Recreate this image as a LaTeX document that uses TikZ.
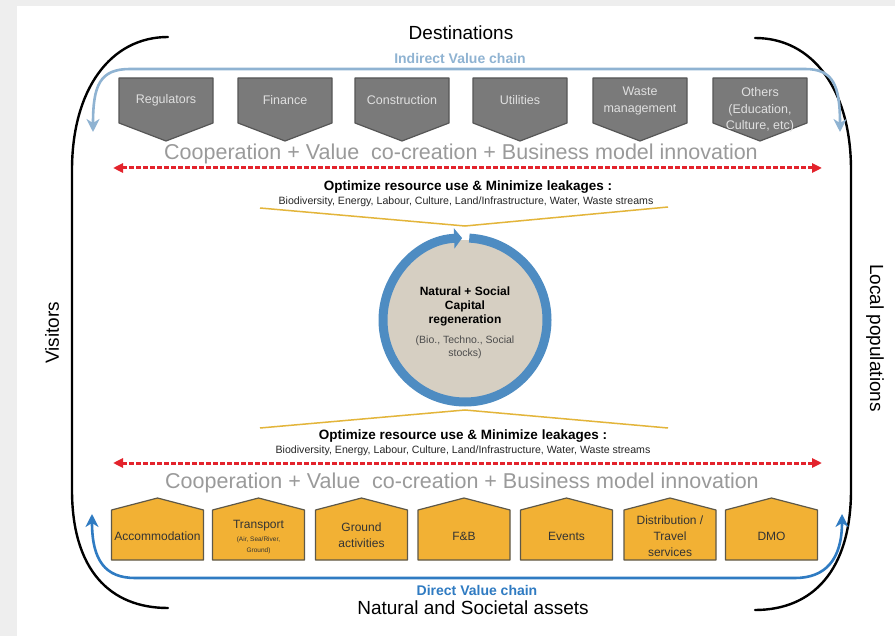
\documentclass[tikz,border=0pt]{standalone}
\usepackage{fontspec}
\setmainfont{Liberation Sans}
\usetikzlibrary{arrows.meta}

\definecolor{panelgray}{HTML}{EEEEEE}
\definecolor{boxgray}{HTML}{7A7A7A}
\definecolor{boxedge}{HTML}{565656}
\definecolor{boxorange}{HTML}{F2B134}
\definecolor{orangeedge}{HTML}{5E5848}
\definecolor{chainlight}{HTML}{8FB3D2}
\definecolor{chainblue}{HTML}{2F7BC2}
\definecolor{leakred}{HTML}{E3232C}
\definecolor{vyellow}{HTML}{E3B53A}
\definecolor{ringblue}{HTML}{4E8CC2}
\definecolor{stockbeige}{HTML}{D6CFC2}
\definecolor{coopgray}{HTML}{9A9A9A}

\newcommand\sizeto[2]{\fontsize{#1}{#2}\selectfont}

\begin{document}
\begin{tikzpicture}[x=1pt,y=-1pt,
  bigtext/.style={font=\sizeto{19}{22}},
  chaintext/.style={font=\bfseries\sizeto{14}{16}},
  cooptext/.style={text=coopgray,font=\sizeto{21.5}{24}},
  opttext/.style={font=\bfseries\sizeto{13.5}{15}},
  listtext/.style={text=black!85,font=\sizeto{10.6}{12}},
  bracket/.style={line width=2.4pt,line cap=round},
  leak/.style={leakred,line width=3pt,dash pattern=on 5pt off 2pt,
    {Triangle[length=10pt,width=9pt]}-{Triangle[length=10pt,width=9pt]}},
  chainarrow/.style={line width=2.6pt,{Stealth[length=13pt,width=13pt,inset=4pt]}-{Stealth[length=13pt,width=13pt,inset=4pt]}},
  graybox/.style={fill=boxgray,draw=boxedge,line width=1.2pt,line join=round},
  graylabel/.style={text=white!88!black,align=center,font=\sizeto{12.5}{16.5}},
  orangebox/.style={fill=boxorange,draw=orangeedge,line width=1.2pt,line join=round},
  orangelabel/.style={text=black!80,align=center,font=\sizeto{12}{16}},
  vline/.style={vyellow,line width=1.5pt}]

\useasboundingbox (0,0) rectangle (895,636);
\fill[panelgray] (0,0) rectangle (895,636);
\fill[white] (17,6) rectangle (895,636);

% outer brackets
\draw[bracket] (168,37) .. controls (110,37) and (72,90) .. (72,170) -- (72,490)
  .. controls (72,570) and (110,608) .. (168,608);
\draw[bracket] (755,38) .. controls (813,38) and (851,90) .. (851,170) -- (851,490)
  .. controls (851,570) and (813,610) .. (755,610);

\node[bigtext] (dest) at (461,33) {Destinations};
\node[bigtext] (assets) at (473,608) {Natural and Societal assets};
\node[bigtext,rotate=90] (visitors) at (52,333) {Visitors};
\node[bigtext,rotate=-90] (locals) at (875,338) {Local populations};

% indirect value chain
\node[chaintext,text=chainlight] (indirect) at (460,58) {Indirect Value chain};
\draw[chainarrow,chainlight] (93,132) .. controls (93,85) and (100,69) .. (130,69) -- (805,69)
  .. controls (833,69) and (840,85) .. (840,132);

\foreach \cx/\ty/\lbl [count=\i] in {166/100/Regulators, 285/100/Finance,
    402/100/Construction, 520/100/Utilities, 640/101/{Waste\\management},
    760/110/{Others\\(Education,\\Culture, etc)}} {
  \filldraw[graybox] (\cx-47,78) -- (\cx+47,78) -- (\cx+47,123) -- (\cx,141) -- (\cx-47,123) -- cycle;
  \node[graylabel] (ind\i) at (\cx,\ty) {\lbl};
}

\node[cooptext] (coop1) at (461,154) {Cooperation + Value\ \ co-creation + Business model innovation};
\draw[leak] (113,168) -- (822,168);

% leakages, top
\node[opttext] (opt1) at (468,187) {Optimize resource use \& Minimize leakages :};
\node[listtext] (list1) at (466,202) {Biodiversity, Energy, Labour, Culture, Land/Infrastructure, Water, Waste streams};
\draw[vline] (260,208) -- (465,226) -- (668,207);

% capital regeneration
\coordinate (cap) at (465,320);
\fill[stockbeige] (cap) circle (80pt);
\draw[ringblue,line width=9pt,-{Triangle[length=8pt,width=20pt]}]
  ([shift={(87:82pt)}]cap) arc[start angle=87,end angle=-268,radius=82pt];
\node[align=center,font=\bfseries\sizeto{12}{14}] (capital) at (465,306) {Natural + Social\\Capital\\regeneration};
\node[align=center,text=black!70,font=\sizeto{10.5}{13}] (stocks) at (465,347) {(Bio., Techno., Social\\stocks)};

% leakages, bottom
\draw[vline] (260,428) -- (465,410) -- (668,428);
\node[opttext] (opt2) at (463,436) {Optimize resource use \& Minimize leakages :};
\node[listtext] (list2) at (463,451) {Biodiversity, Energy, Labour, Culture, Land/Infrastructure, Water, Waste streams};
\draw[leak] (113,463) -- (822,463);
\node[cooptext] (coop2) at (462,483) {Cooperation + Value\ \ co-creation + Business model innovation};

% direct value chain
\foreach \cx/\ty/\lbl [count=\i] in {157.5/536/Accommodation,
    258.5/537/{Transport\\[-3pt]{\sizeto{6.5}{8}(Air, Sea/River,}\\[-5pt]{\sizeto{6.5}{8}Ground)}},
    361.5/535/{Ground\\activities}, 464/536/F\&B, 566.5/536/Events,
    670/536/{Distribution /\\Travel\\services}, 771.5/536/DMO} {
  \filldraw[orangebox] (\cx-46,510) -- (\cx,498) -- (\cx+46,510) -- (\cx+46,560) -- (\cx-46,560) -- cycle;
  \node[orangelabel] (dir\i) at (\cx,\ty) {\lbl};
}

\draw[chainarrow,chainblue] (92,514) .. controls (92,560) and (105,578) .. (135,578) -- (795,578)
  .. controls (825,578) and (842,560) .. (842,514);
\node[chaintext,text=chainblue] (direct) at (477,590) {Direct Value chain};

\end{tikzpicture}
\end{document}
